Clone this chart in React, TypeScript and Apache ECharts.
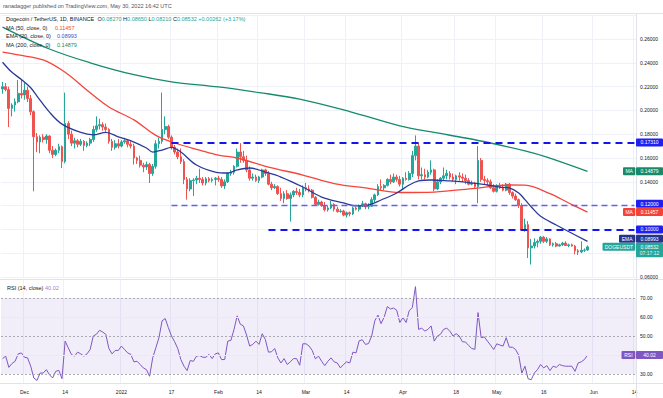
import React, { useEffect, useRef } from "react";
import * as echarts from "echarts";

// ---------- categories (daily candles) ----------
const START = Date.UTC(2021, 10, 24);
const DAY = 86400000;
const N_CATS = 203;
const dates: string[] = [];
for (let k = 0; k < N_CATS; k++) dates.push(new Date(START + k * DAY).toISOString().slice(0, 10));

const tickDates = ["2021-12-01", "2021-12-14", "2022-01-01", "2022-01-17", "2022-02-01", "2022-02-14", "2022-03-01", "2022-03-14", "2022-04-01", "2022-04-18", "2022-05-01", "2022-05-16", "2022-06-01", "2022-06-14"];
const tickLabels = ["Dec", "14", "2022", "17", "Feb", "14", "Mar", "14", "Apr", "18", "May", "16", "Jun", "14"];

// ---------- OHLC [open, high, low, close] from 2021-11-24 ----------
const ohlc: number[][] = [
  [0.2180, 0.2240, 0.2140, 0.2199], [0.2199, 0.2230, 0.2160, 0.2175], [0.2175, 0.2199, 0.1860, 0.2017], [0.2017, 0.2060, 0.1950, 0.2045],
  [0.2045, 0.2100, 0.1990, 0.2073], [0.2073, 0.2255, 0.2060, 0.2143], [0.2143, 0.2265, 0.2100, 0.2130], [0.2130, 0.2230, 0.2090, 0.2170],
  [0.2170, 0.2200, 0.2070, 0.2100], [0.2100, 0.2130, 0.1960, 0.1989], [0.1989, 0.2000, 0.1320, 0.1779], [0.1779, 0.1810, 0.1650, 0.1735],
  [0.1735, 0.1790, 0.1640, 0.1775], [0.1775, 0.1800, 0.1730, 0.1755], [0.1755, 0.1800, 0.1720, 0.1785], [0.1785, 0.1790, 0.1640, 0.1665],
  [0.1665, 0.1700, 0.1600, 0.1630], [0.1630, 0.1680, 0.1615, 0.1665], [0.1665, 0.1720, 0.1640, 0.1695], [0.1695, 0.1705, 0.1515, 0.1570],
  [0.1570, 0.2150, 0.1555, 0.1890], [0.1890, 0.1910, 0.1760, 0.1800], [0.1800, 0.1830, 0.1700, 0.1725], [0.1725, 0.1770, 0.1680, 0.1745],
  [0.1745, 0.1760, 0.1690, 0.1715], [0.1715, 0.1760, 0.1700, 0.1740], [0.1740, 0.1750, 0.1660, 0.1705], [0.1705, 0.1740, 0.1690, 0.1725],
  [0.1725, 0.1770, 0.1700, 0.1755], [0.1755, 0.1870, 0.1735, 0.1840], [0.1840, 0.1950, 0.1820, 0.1870], [0.1870, 0.1930, 0.1840, 0.1880],
  [0.1880, 0.1900, 0.1830, 0.1860], [0.1860, 0.1890, 0.1820, 0.1840], [0.1840, 0.1850, 0.1720, 0.1740], [0.1740, 0.1760, 0.1660, 0.1690],
  [0.1690, 0.1750, 0.1670, 0.1720], [0.1720, 0.1760, 0.1680, 0.1700], [0.1700, 0.1750, 0.1690, 0.1735], [0.1735, 0.1770, 0.1720, 0.1745],
  [0.1745, 0.1760, 0.1690, 0.1715], [0.1715, 0.1740, 0.1680, 0.1700], [0.1700, 0.1720, 0.1545, 0.1600], [0.1600, 0.1610, 0.1550, 0.1580],
  [0.1580, 0.1620, 0.1520, 0.1540], [0.1540, 0.1560, 0.1480, 0.1525], [0.1525, 0.1570, 0.1500, 0.1545], [0.1545, 0.1560, 0.1390, 0.1470],
  [0.1470, 0.1550, 0.1450, 0.1530], [0.1530, 0.1750, 0.1510, 0.1720], [0.1720, 0.1770, 0.1680, 0.1740], [0.1740, 0.2150, 0.1720, 0.1840],
  [0.1840, 0.1950, 0.1800, 0.1865], [0.1865, 0.1880, 0.1760, 0.1775], [0.1775, 0.1790, 0.1670, 0.1690], [0.1690, 0.1710, 0.1630, 0.1650],
  [0.1650, 0.1680, 0.1590, 0.1610], [0.1610, 0.1680, 0.1550, 0.1570], [0.1570, 0.1590, 0.1380, 0.1420], [0.1420, 0.1440, 0.1250, 0.1340],
  [0.1340, 0.1430, 0.1320, 0.1410], [0.1410, 0.1430, 0.1280, 0.1415], [0.1415, 0.1450, 0.1380, 0.1430], [0.1430, 0.1510, 0.1390, 0.1420],
  [0.1420, 0.1440, 0.1370, 0.1390], [0.1390, 0.1440, 0.1370, 0.1425], [0.1425, 0.1440, 0.1395, 0.1410], [0.1410, 0.1435, 0.1395, 0.1420],
  [0.1420, 0.1440, 0.1370, 0.1430], [0.1430, 0.1450, 0.1400, 0.1420], [0.1420, 0.1440, 0.1350, 0.1365], [0.1365, 0.1420, 0.1340, 0.1400],
  [0.1400, 0.1480, 0.1390, 0.1470], [0.1470, 0.1500, 0.1450, 0.1480], [0.1480, 0.1540, 0.1460, 0.1530], [0.1530, 0.1680, 0.1520, 0.1650],
  [0.1650, 0.1725, 0.1560, 0.1610], [0.1610, 0.1660, 0.1560, 0.1580], [0.1580, 0.1620, 0.1480, 0.1500], [0.1500, 0.1530, 0.1410, 0.1430],
  [0.1430, 0.1470, 0.1410, 0.1440], [0.1440, 0.1460, 0.1400, 0.1410], [0.1410, 0.1450, 0.1390, 0.1440], [0.1440, 0.1510, 0.1430, 0.1500],
  [0.1500, 0.1510, 0.1450, 0.1470], [0.1470, 0.1490, 0.1370, 0.1380], [0.1380, 0.1400, 0.1330, 0.1350], [0.1350, 0.1380, 0.1340, 0.1360],
  [0.1360, 0.1370, 0.1290, 0.1300], [0.1300, 0.1350, 0.1240, 0.1260], [0.1260, 0.1320, 0.1220, 0.1300], [0.1300, 0.1330, 0.1250, 0.1260],
  [0.1260, 0.1310, 0.1065, 0.1290], [0.1290, 0.1330, 0.1270, 0.1320], [0.1320, 0.1350, 0.1290, 0.1310], [0.1310, 0.1340, 0.1270, 0.1290],
  [0.1290, 0.1370, 0.1270, 0.1350], [0.1350, 0.1390, 0.1320, 0.1340], [0.1340, 0.1370, 0.1310, 0.1330], [0.1330, 0.1340, 0.1260, 0.1270],
  [0.1270, 0.1280, 0.1200, 0.1210], [0.1210, 0.1250, 0.1200, 0.1230], [0.1230, 0.1240, 0.1190, 0.1200], [0.1200, 0.1230, 0.1150, 0.1165],
  [0.1165, 0.1200, 0.1150, 0.1180], [0.1180, 0.1240, 0.1170, 0.1210], [0.1210, 0.1220, 0.1150, 0.1170], [0.1170, 0.1190, 0.1140, 0.1150],
  [0.1150, 0.1170, 0.1140, 0.1155], [0.1155, 0.1165, 0.1110, 0.1120], [0.1120, 0.1150, 0.1100, 0.1140], [0.1140, 0.1150, 0.1110, 0.1130],
  [0.1130, 0.1190, 0.1120, 0.1180], [0.1180, 0.1190, 0.1160, 0.1170], [0.1170, 0.1210, 0.1150, 0.1200], [0.1200, 0.1240, 0.1190, 0.1215],
  [0.1215, 0.1225, 0.1170, 0.1190], [0.1190, 0.1220, 0.1170, 0.1195], [0.1195, 0.1270, 0.1190, 0.1250], [0.1250, 0.1300, 0.1230, 0.1290],
  [0.1290, 0.1380, 0.1280, 0.1360], [0.1360, 0.1420, 0.1330, 0.1350], [0.1350, 0.1380, 0.1330, 0.1370], [0.1370, 0.1430, 0.1360, 0.1420],
  [0.1420, 0.1460, 0.1380, 0.1400], [0.1400, 0.1470, 0.1390, 0.1440], [0.1440, 0.1460, 0.1400, 0.1420], [0.1420, 0.1450, 0.1360, 0.1380],
  [0.1380, 0.1440, 0.1340, 0.1430], [0.1430, 0.1480, 0.1410, 0.1420], [0.1420, 0.1490, 0.1410, 0.1470], [0.1470, 0.1660, 0.1440, 0.1620],
  [0.1620, 0.1790, 0.1580, 0.1700], [0.1700, 0.1730, 0.1420, 0.1450], [0.1450, 0.1520, 0.1420, 0.1460], [0.1460, 0.1510, 0.1420, 0.1440],
  [0.1440, 0.1500, 0.1430, 0.1480], [0.1480, 0.1580, 0.1460, 0.1500], [0.1500, 0.1510, 0.1320, 0.1340], [0.1340, 0.1420, 0.1330, 0.1400],
  [0.1400, 0.1440, 0.1380, 0.1430], [0.1430, 0.1520, 0.1410, 0.1450], [0.1450, 0.1500, 0.1420, 0.1470], [0.1470, 0.1490, 0.1420, 0.1440],
  [0.1440, 0.1470, 0.1400, 0.1420], [0.1420, 0.1460, 0.1380, 0.1450], [0.1450, 0.1480, 0.1410, 0.1440], [0.1440, 0.1470, 0.1400, 0.1430],
  [0.1430, 0.1460, 0.1380, 0.1410], [0.1410, 0.1430, 0.1370, 0.1380], [0.1380, 0.1410, 0.1370, 0.1390], [0.1390, 0.1400, 0.1340, 0.1360],
  [0.1360, 0.1700, 0.1220, 0.1580], [0.1580, 0.1600, 0.1400, 0.1420], [0.1420, 0.1450, 0.1380, 0.1410], [0.1410, 0.1430, 0.1370, 0.1400],
  [0.1400, 0.1420, 0.1340, 0.1350], [0.1350, 0.1380, 0.1310, 0.1320], [0.1320, 0.1380, 0.1310, 0.1360], [0.1360, 0.1390, 0.1340, 0.1350],
  [0.1350, 0.1380, 0.1320, 0.1330], [0.1330, 0.1390, 0.1320, 0.1380], [0.1380, 0.1390, 0.1290, 0.1310], [0.1310, 0.1320, 0.1260, 0.1280],
  [0.1280, 0.1300, 0.1240, 0.1250], [0.1250, 0.1260, 0.1180, 0.1200], [0.1200, 0.1220, 0.0990, 0.1000], [0.1000, 0.1090, 0.0980, 0.1040],
  [0.1040, 0.1070, 0.0760, 0.0845], [0.0845, 0.0920, 0.0705, 0.0860], [0.0860, 0.0925, 0.0840, 0.0890], [0.0890, 0.0915, 0.0850, 0.0900],
  [0.0900, 0.0945, 0.0880, 0.0935], [0.0935, 0.0945, 0.0885, 0.0900], [0.0900, 0.0935, 0.0885, 0.0920], [0.0920, 0.0925, 0.0860, 0.0870],
  [0.0870, 0.0890, 0.0855, 0.0880], [0.0880, 0.0895, 0.0850, 0.0860], [0.0860, 0.0880, 0.0855, 0.0870], [0.0870, 0.0895, 0.0860, 0.0885],
  [0.0885, 0.0900, 0.0860, 0.0865], [0.0865, 0.0880, 0.0850, 0.0870], [0.0870, 0.0880, 0.0855, 0.0860], [0.0860, 0.0870, 0.0790, 0.0820],
  [0.0820, 0.0835, 0.0785, 0.0810], [0.0810, 0.0900, 0.0800, 0.0825], [0.0825, 0.0840, 0.0810, 0.0827], [0.0827, 0.0865, 0.0821, 0.08532],
];

// ---------- moving averages (at sample days) ----------
const ma50Idx = [0, 5, 13, 20, 27, 34, 42, 49, 55, 63, 69, 75, 85, 96, 106, 117, 127, 138, 151, 162, 167, 175, 181, 187];
const ma50Val = [0.2490, 0.2466, 0.2424, 0.2320, 0.2170, 0.2029, 0.1920, 0.1790, 0.1726, 0.1667, 0.1625, 0.1600, 0.1524, 0.1457, 0.1385, 0.1345, 0.1310, 0.1314, 0.1345, 0.1373, 0.1372, 0.1300, 0.1222, 0.11457];
const ema20Idx = [0, 3, 6, 9, 11, 15, 19, 25, 29, 33, 37, 42, 46, 48, 51, 54, 57, 62, 68, 72, 75, 79, 84, 89, 96, 102, 109, 113, 117, 121, 126, 130, 133, 137, 143, 148, 155, 159, 162, 165, 167, 169, 172, 177, 180, 187];
const ema20Val = [0.2405, 0.2320, 0.2260, 0.2190, 0.2120, 0.1985, 0.1885, 0.1815, 0.1795, 0.1815, 0.1778, 0.1734, 0.1684, 0.1650, 0.1667, 0.1690, 0.1650, 0.1541, 0.1482, 0.1474, 0.1500, 0.1516, 0.1482, 0.1440, 0.1356, 0.1272, 0.1222, 0.1197, 0.1205, 0.1247, 0.1306, 0.1373, 0.1407, 0.1415, 0.1407, 0.1398, 0.1373, 0.1356, 0.1348, 0.1306, 0.1250, 0.1190, 0.1110, 0.1037, 0.0995, 0.08993];
const ma200Idx = [0, 15, 28, 42, 54, 69, 82, 95, 111, 127, 138, 148, 156, 167, 174, 187];
const ma200Val = [0.2700, 0.2516, 0.2400, 0.2300, 0.2240, 0.2197, 0.2150, 0.2095, 0.1990, 0.1870, 0.1815, 0.1768, 0.1726, 0.1660, 0.1608, 0.14879];

// ---------- RSI(14) ----------
const rsi: number[] = [
  38.1, 39.4, 33.5, 35.5, 36.7, 40.6, 41.1, 38.8, 38.5, 34.1,
  27.9, 26.6, 30.5, 30.5, 32.3, 29.6, 27.9, 31.4, 31.9, 27.5,
  47.3, 43.8, 40.3, 39.4, 41.5, 40.6, 39.4, 40.6, 42.9, 50.0,
  50.9, 53.0, 52.1, 50.9, 43.4, 40.6, 42.4, 42.4, 44.7, 42.9,
  41.1, 40.3, 36.4, 36.7, 35.0, 33.2, 32.3, 28.8, 38.5, 43.8,
  49.1, 58.0, 59.2, 54.4, 50.0, 47.0, 43.4, 37.6, 34.1, 31.8,
  37.1, 36.7, 39.4, 39.7, 38.8, 38.8, 40.3, 38.1, 40.6, 41.1,
  37.6, 37.6, 47.3, 47.7, 53.5, 60.6, 56.2, 55.3, 50.5, 44.7,
  45.6, 47.3, 45.6, 51.2, 48.2, 41.5, 41.7, 43.4, 38.5, 35.8,
  38.1, 35.0, 36.4, 38.1, 38.1, 34.6, 45.9, 45.9, 44.7, 42.4,
  38.0, 39.4, 36.7, 34.4, 36.7, 38.5, 36.4, 35.8, 33.2, 35.0,
  36.4, 35.8, 41.5, 41.1, 47.5, 48.0, 45.6, 46.0, 50.0, 58.0,
  61.0, 56.5, 60.0, 65.5, 64.2, 64.7, 63.6, 57.1, 59.7, 57.1,
  63.3, 65.0, 76.0, 53.5, 54.1, 52.6, 53.5, 55.3, 47.3, 50.0,
  50.9, 53.5, 54.1, 52.6, 50.0, 51.2, 50.0, 47.0, 46.8, 45.0,
  43.4, 43.0, 62.3, 49.1, 49.5, 47.3, 45.2, 42.9, 45.9, 45.2,
  44.7, 49.1, 44.1, 44.1, 42.9, 39.9, 30.5, 34.1, 27.5, 27.0,
  30.5, 32.3, 35.0, 33.2, 34.4, 31.8, 34.1, 33.5, 35.0, 34.4,
  34.1, 34.1, 34.1, 31.4, 35.8, 36.4, 37.6, 40.02,
];

// ---------- horizontal levels ----------
const levelVals = [0.1731, 0.12, 0.10];
const levelLabels = ["0.17310", "0.12000", "0.10000"];
const levelStart = ["2022-01-17", "2022-01-17", "2022-02-17"];

// last values (legend)
const lastOHLC = ["0.08270", "0.08650", "0.08210", "0.08532"];
const lastChange = "+0.00262 (+3.17%)";
const ma50Last = 0.11457, ema20Last = 0.08993, ma200Last = 0.14879, lastClose = 0.08532, rsiLast = 40.02;

const F = "Liberation Sans, Arial, sans-serif";
const UP = "#26a69a", DOWN = "#ef5350";
const C_MA50 = "#f5453b", C_EMA = "#2a3a98", C_MA200 = "#168a6b", C_RSI = "#7e57c2", C_LVL = "#1414f0";
const GRID = "#eef1f7";

export default function App() {
  const ref = useRef<HTMLDivElement>(null);
  useEffect(() => {
    const chart = echarts.init(ref.current!, undefined, { renderer: "svg" });
    const tickSet = new Set(tickDates);
    const tickLab: Record<string, string> = {};
    tickDates.forEach((d, k) => (tickLab[d] = tickLabels[k]));
    const near = (v: number, t: number) => Math.abs(v - t) < 1e-7;
    const lineData = (idx: number[], val: number[]) => idx.map((k, j) => [dates[k], val[j]]);

    const lvlStyles = [
      { color: C_LVL, width: 2, type: [7, 5] },
      { color: "#6262f2", width: 1.3, type: [6, 4] },
      { color: C_LVL, width: 2, type: [7, 5] },
    ];

    chart.setOption({
      animation: false,
      textStyle: { fontFamily: F },
      grid: [
        { left: 1, right: 27, top: 15.2, bottom: 121 },
        { left: 1, right: 27, top: 279, bottom: 14.5 },
      ],
      xAxis: [
        {
          type: "category", gridIndex: 0, data: dates, boundaryGap: true,
          axisLine: { show: false }, axisTick: { show: false }, axisLabel: { show: false },
          splitLine: { show: true, interval: (_i: number, v: string) => tickSet.has(v), lineStyle: { color: GRID, width: 1 } },
        },
        {
          type: "category", gridIndex: 1, data: dates, boundaryGap: true,
          axisLine: { show: false }, axisTick: { show: false },
          axisLabel: { show: true, interval: (_i: number, v: string) => tickSet.has(v), formatter: (v: string) => tickLab[v] || "", fontSize: 5, color: "#131722", margin: 6 },
          splitLine: { show: true, interval: (_i: number, v: string) => tickSet.has(v), lineStyle: { color: GRID, width: 1 } },
        },
      ],
      yAxis: [
        {
          type: "value", gridIndex: 0, position: "right", min: 0.06, max: 0.28, interval: 0.02, scale: false,
          axisLine: { show: false }, axisTick: { show: false },
          axisLabel: {
            fontSize: 5, color: "#131722", margin: 4, showMaxLabel: false,
            formatter: (v: number) => (near(v, 0.08) || near(v, 0.1) || near(v, 0.12) ? "" : v.toFixed(5)),
          },
          splitLine: { lineStyle: { color: GRID } },
        },
        {
          type: "value", gridIndex: 1, position: "right", min: 25, max: 80, interval: 5,
          axisLine: { show: false }, axisTick: { show: false },
          axisLabel: { fontSize: 5, color: "#131722", margin: 4, formatter: (v: number) => ([30, 50, 60, 70].includes(Math.round(v)) ? v.toFixed(2) : "") },
          splitLine: { show: false },
        },
      ],
      series: [
        {
          type: "candlestick", xAxisIndex: 0, yAxisIndex: 0, barWidth: 2.2,
          data: ohlc.map(([o, h, l, c]) => [o, c, l, h]),
          itemStyle: { color: UP, color0: DOWN, borderColor: UP, borderColor0: DOWN, borderWidth: 1 },
          markLine: {
            silent: true, symbol: ["none", "none"], label: { show: false }, z: 4,
            data: levelVals.map((lv, k) => [
              { coord: [levelStart[k], lv], lineStyle: lvlStyles[k] },
              { coord: [dates[N_CATS - 1], lv] },
            ]),
          },
        },
        { type: "line", name: "MA200", xAxisIndex: 0, yAxisIndex: 0, data: lineData(ma200Idx, ma200Val), smooth: 0.35, showSymbol: false, lineStyle: { color: C_MA200, width: 1.3 }, z: 3 },
        { type: "line", name: "MA50", xAxisIndex: 0, yAxisIndex: 0, data: lineData(ma50Idx, ma50Val), smooth: 0.35, showSymbol: false, lineStyle: { color: C_MA50, width: 1.3 }, z: 3 },
        { type: "line", name: "EMA20", xAxisIndex: 0, yAxisIndex: 0, data: lineData(ema20Idx, ema20Val), smooth: 0.35, showSymbol: false, lineStyle: { color: C_EMA, width: 1.3 }, z: 3 },
        {
          type: "line", name: "RSI", xAxisIndex: 1, yAxisIndex: 1, data: rsi, showSymbol: false,
          lineStyle: { color: C_RSI, width: 1 }, z: 3,
          markArea: { silent: true, itemStyle: { color: "rgba(126,87,194,0.10)" }, data: [[{ yAxis: 70 }, { yAxis: 30 }]] },
          markLine: {
            silent: true, symbol: ["none", "none"], label: { show: false },
            data: [
              { yAxis: 60, lineStyle: { color: "#ece9f5", width: 1, type: "solid" } },
              { yAxis: 40, lineStyle: { color: "#ece9f5", width: 1, type: "solid" } },
              { yAxis: 70, lineStyle: { color: "#9598a1", width: 0.8, type: [2, 2] } },
              { yAxis: 50, lineStyle: { color: "#9598a1", width: 0.8, type: [2, 2] } },
              { yAxis: 30, lineStyle: { color: "#9598a1", width: 0.8, type: [2, 2] } },
            ],
          },
        },
      ],
    });

    const py = (v: number) => chart.convertToPixel({ yAxisIndex: 0 }, v) as number;
    const ry = (v: number) => chart.convertToPixel({ yAxisIndex: 1 }, v) as number;
    const txt = (x: number, y: number, text: string, fill: string, size: number, align = "left", extra: any = {}) => ({
      type: "text", z: 101, x, y,
      style: { text, fill, fontSize: size, fontFamily: F, align, verticalAlign: "middle", textAlign: align, textVerticalAlign: "middle", ...extra },
    });
    const box = (x: number, yc: number, w: number, h: number, fill: string, text: string) => [
      { type: "rect", z: 100, shape: { x, y: yc - h / 2, width: w, height: h, r: 1 }, style: { fill } },
      txt(x + w / 2, yc, text, "#ffffff", 5, "center"),
    ];
    const BX = 636, BW = 27, BH = 8;
    const yMa50 = py(ma50Last);
    const yClose = py(lastClose);
    const yEma = Math.min(py(ema20Last), yClose - 4.2 - BH / 2);
    const yLvl = levelVals.map((v) => py(v));
    yLvl[1] = Math.min(yLvl[1], yMa50 - BH - 0.4);
    const yRsi = ry(rsiLast);

    const line = (x1: number, y1: number, x2: number, y2: number, color = "#e0e3eb") => ({
      type: "line", z: 99, shape: { x1, y1, x2, y2 }, style: { stroke: color, lineWidth: 1 },
    });

    const els: any[] = [
      line(0, 13.5, 663, 13.5),
      line(0, 279.5, 663, 279.5),
      line(0, 383.5, 663, 383.5),
      line(636.5, 13.5, 636.5, 398),
      txt(3, 6, "ranadagger published on TradingView.com, May 30, 2022 16:42 UTC", "#50535e", 5.5),
      {
        type: "text", z: 101, x: 6, y: 19,
        style: {
          text: `{t|Dogecoin / TetherUS, 1D, BINANCE}  {t|O}{g|${lastOHLC[0]}} {t|H}{g|${lastOHLC[1]}} {t|L}{g|${lastOHLC[2]}} {t|C}{g|${lastOHLC[3]}} {g|${lastChange}}`,
          fontSize: 5.5, fontFamily: F, fill: "#131722", verticalAlign: "middle", textVerticalAlign: "middle",
          rich: { t: { fill: "#131722", fontSize: 5.5, fontFamily: F }, g: { fill: UP, fontSize: 5.5, fontFamily: F } },
        },
      },
      txt(6, 27.5, "MA (50, close, 0)", "#131722", 5.5), txt(55, 27.5, ma50Last.toFixed(5), C_MA50, 5.5),
      txt(6, 36, "EMA (20, close, 0)", "#131722", 5.5), txt(57, 36, ema20Last.toFixed(5), "#3f51c8", 5.5),
      txt(6, 44.5, "MA (200, close, 0)", "#131722", 5.5), txt(57, 44.5, ma200Last.toFixed(5), C_MA200, 5.5),
      txt(7, 288, "RSI (14, close)", "#131722", 5.5), txt(45, 288, rsiLast.toFixed(2), "#9a7fd4", 5.5),
    ];
    levelVals.forEach((_v, k) => els.push(...box(BX, yLvl[k], BW, BH, "#1f1ff2", levelLabels[k])));
    els.push(...box(623, py(ma200Last), 12.3, BH, C_MA200, "MA"), ...box(BX, py(ma200Last), BW, BH, C_MA200, ma200Last.toFixed(5)));
    els.push(...box(623, yMa50, 12.3, BH, "#f44336", "MA"), ...box(BX, yMa50, BW, BH, "#f44336", ma50Last.toFixed(5)));
    els.push(...box(619, yEma, 16.3, BH, "#24338f", "EMA"), ...box(BX, yEma, BW, BH, "#24338f", ema20Last.toFixed(5)));
    els.push(...box(602.5, yClose, 32.8, BH, UP, "DOGEUSDT"));
    els.push(
      { type: "rect", z: 100, shape: { x: BX, y: yClose - 4, width: BW, height: 14.5, r: 1 }, style: { fill: UP } },
      txt(BX + BW / 2, yClose, lastClose.toFixed(5), "#ffffff", 5, "center"),
      txt(BX + BW / 2, yClose + 6.3, "07:17:12", "#e6f5f3", 5, "center"),
    );
    els.push(...box(621.5, yRsi, 13.8, BH, C_RSI, "RSI"), ...box(BX, yRsi, BW, BH, C_RSI, rsiLast.toFixed(2)));

    chart.setOption({ graphic: els });
    return () => chart.dispose();
  }, []);
  return <div ref={ref} style={{ position: "fixed", left: 0, top: 0, width: 663, height: 398, background: "#ffffff" }} />;
}
